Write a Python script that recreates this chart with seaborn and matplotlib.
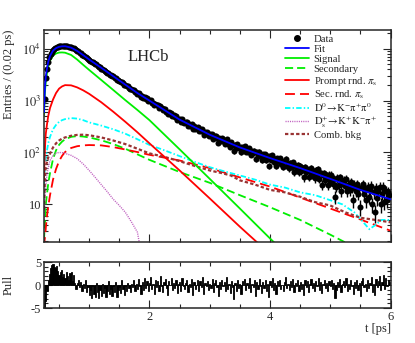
import numpy as np
import matplotlib
matplotlib.use("Agg")
import matplotlib.pyplot as plt
import seaborn as sns
from matplotlib.lines import Line2D
from matplotlib.ticker import FixedLocator, MultipleLocator, LogLocator, FuncFormatter, NullFormatter

# ---- values ----
# data: entries per 0.02 ps bin, first bin centre 0.26 ps
data_counts = [
    1070, 2710, 4122, 5675, 6905, 7978, 8782, 9641, 10018, 10433, 10846, 10965, 11130,
    11294, 11437, 11350, 11444, 11359, 11365, 11129, 10905, 10919, 10787,
    10281, 10139, 9689, 9293, 9138, 8864, 8404, 8203, 7734, 7576,
    7209, 7072, 6587, 6418, 6027, 5903, 5547, 5538, 5221, 4980,
    5008, 4689, 4433, 4387, 4149, 4153, 3883, 3803, 3542, 3482,
    3483, 3185, 3135, 2927, 2939, 2760, 2771, 2501, 2490, 2430,
    2273, 2327, 2148, 2014, 2016, 1907, 1902, 1790, 1683, 1702,
    1600, 1600, 1459, 1458, 1370, 1406, 1298, 1198, 1245, 1145,
    1198, 1086, 1099, 989, 1013,
    1020, 907, 913, 815, 877, 806, 812, 728, 790, 709,
    648, 682, 678, 606, 549, 605, 562, 580, 504, 518,
    479, 502, 421, 449, 444, 394, 440, 391, 368, 386,
    385, 328, 353, 331, 354, 282, 322, 289, 297, 306,
    258, 285, 257, 285, 221, 251, 235, 246, 209, 224,
    205, 229, 183, 208, 211, 186, 155, 194, 167, 191,
    167, 176, 146, 183, 147, 155, 129, 157, 137, 105,
    142, 120, 144, 121, 128, 101, 129, 117, 131, 103,
    116, 102, 123, 90, 105, 97, 109, 74, 102, 85,
    104, 88, 72, 94, 79, 94, 71, 84, 56, 86,
    73, 88, 65, 76, 55, 77, 67, 77, 60, 66,
    53, 68, 75, 55, 61, 50, 64, 53, 65, 42,
    57, 51, 58, 42, 55, 43, 50, 33, 53, 42,
    49, 34, 44, 51, 37, 43, 32, 45, 36, 47,
    31, 40, 24, 37, 40, 29, 36, 24, 37, 30,
    37, 25, 31, 14, 22, 32, 24, 33, 18, 27,
    30, 23, 31, 18, 24, 19, 27, 21, 12, 24,
    18, 25, 16, 21, 9, 22, 25, 16, 19, 12,
    22, 14, 19, 23, 10, 17, 7, 21, 13, 18,
    22, 10, 16, 22, 11, 18, 12, 17, 15,
]

pulls = [
    -5.0, -3.5, -1.2, 1.0, 2.5, 3.8, 4.3, 4.6, 4.0, 3.6,
    4.2, 3.0, 2.2, 2.8, 3.2, 1.8, 2.5, 1.5, 2.9, 2.0,
    1.2, 2.7, 2.8, 0.8, 2.2, 0.5, -0.8, 0.4, 1.0, -0.5,
    0.7, -1.2, 0.3, -0.6, 1.1, -1.5, -0.4, -2.2, -1.0, -2.8,
    -0.3, -1.9, -2.5, 0.4, -1.6, -2.9, -1.1, -2.3, 0.2, -1.7,
    -0.6, -2.6, -1.3, 0.9, -2.0, -0.8, -2.4, -0.2, -1.5, 0.6,
    -2.7, -1.0, -0.4, -1.8, 1.2, -0.9, -2.1, -0.3, -1.2, 0.5,
    -0.7, -1.6, 0.3, -0.5, 1.0, -1.3, 0.2, -0.8, 1.4, -0.3,
    -1.9, 0.6, -1.1, 1.6, -0.6, 0.9, -1.4, 0.4,
    1.7, -0.9, 0.3, -2.0, 1.1, -0.4, 0.8, -1.3, 1.9, -0.2,
    -1.6, 0.6, 1.3, -0.7, -2.2, 0.9, -0.1, 1.5, -1.0, 0.4,
    -0.6, 1.2, -1.8, 0.2, 0.7, -1.2, 1.6, -0.3, -0.9, 0.5,
    1.0, -1.5, 0.3, -0.4, 1.4, -2.1, 0.6, -0.8, 0.1, 1.1,
    -1.3, 0.8, -0.5, 1.7, -1.9, 0.4, -0.2, 0.9, -1.1, 0.3,
    -0.7, 1.3, -1.6, 0.5, 1.0, -0.4, -2.4, 0.7, -0.9, 1.2,
    -0.3, 0.6, -1.4, 1.8, -0.8, 0.2, -1.7, 0.9, -0.5, -3.0,
    0.4, -1.2, 1.1, -0.6, 0.3, -2.0, 0.8, -0.1, 1.4, -1.0,
    0.5, -0.7, 1.6, -1.5, 0.2, -0.4, 1.0, -2.3, 0.6, -0.9,
    1.3, -0.2, -1.8, 0.7, -0.6, 1.1, -1.2, 0.3, -2.6, 0.9,
    -0.5, 1.5, -1.0, 0.4, -1.9, 0.8, -0.3, 1.2, -0.8, 0.1,
    -1.4, 0.6, 1.7, -0.7, 0.2, -1.1, 0.9, -0.4, 1.3, -1.6,
    0.5, -0.2, 1.0, -1.3, 0.7, -0.9, 0.3, -2.1, 1.1, -0.5,
    0.8, -1.5, 0.2, 1.4, -0.6, 0.4, -1.2, 0.9, -0.3, 1.6,
    -1.0, 0.6, -1.8, 0.3, 1.1, -0.7, 0.5, -1.4, 0.8, -0.2,
    1.2, -0.9, 0.4, -2.8, -1.1, 0.7, -0.5, 1.3, -1.6, 0.2,
    0.9, -0.4, 1.5, -1.2, 0.3, -0.8, 1.0, -0.3, -1.9, 0.6,
    -0.6, 1.2, -1.0, 0.4, -2.4, 0.8, 1.6, -0.5, 0.2, -1.3,
    1.1, -0.7, 0.5, 1.8, -1.5, 0.3, -2.2, 1.4, -0.4, 0.9,
    1.9, -1.1, 0.6, 2.2, -0.8, 1.5, -0.3, 1.2, 0.7,
]

# fit model and components, sampled along t [ps]
t_curve = [0.25, 0.26, 0.27, 0.28, 0.30, 0.32, 0.35, 0.40, 0.45, 0.50, 0.55, 0.60, 0.70,
           0.80, 0.90, 1.0, 1.2, 1.4, 1.6, 1.8, 2.0, 2.5, 3.0, 3.5, 4.0, 4.5, 5.0, 5.5, 6.0]
fit = [600, 1250, 2100, 2900, 4200, 5600, 7300, 9200, 10300, 10900, 11150, 11200, 10500,
       9100, 7550, 6200, 4300, 2950, 2030, 1400, 1000, 430, 220, 125, 78, 50, 31, 19, 12.5]
signal = [500, 1100, 1700, 2300, 3400, 4500, 5900, 7400, 8100, 8450, 8500, 8400, 7600,
          6200, 4900, 3900, 2500, 1600, 1020, 660, 420, 115, 31, 8.3, 2.2, 0.6, 0.16, 0.04, 0.01]
secondary = [2, 3.5, 5, 10, 16, 25, 40, 75, 110, 140, 162, 180, 200,
             207, 203, 195, 172, 145, 118, 92, 72, 42, 26, 15, 8.8, 5.0, 2.6, 1.3, 0.7]
prompt_rnd = [30, 80, 150, 230, 350, 500, 720, 1050, 1400, 1700, 1880, 1990, 1970,
              1800, 1580, 1350, 930, 610, 390, 245, 150, 45, 13, 3.7, 1.1, 0.3, 0.1, 0.03, 0.01]
sec_rnd = [1.5, 2, 2.5, 3.5, 6, 9, 15, 30, 48, 68, 86, 102, 122,
           132, 137, 139, 137, 127, 114, 102, 90, 70, 50, 33, 22, 13.5, 8.3, 5.1, 3.1]

t_kpipi0 = [0.25, 0.26, 0.27, 0.28, 0.30, 0.32, 0.35, 0.40, 0.45, 0.50, 0.55, 0.60, 0.70, 0.80,
            0.90, 1.0, 1.2, 1.4, 1.6, 1.8, 2.0, 2.25, 2.5, 2.75, 3.0, 3.25, 3.5, 3.75, 4.0,
            4.25, 4.5, 4.75, 5.0, 5.2, 5.4, 5.55, 5.65, 5.75, 5.85, 6.0]
kpipi0 = [25, 40, 60, 80, 110, 150, 200, 280, 340, 390, 420, 440, 460, 450,
          420, 380, 330, 280, 230, 180, 140, 110, 85, 66, 52, 43, 36, 30, 24,
          21, 17, 15, 12, 10, 7, 4.5, 3.3, 4, 5, 5]

t_ds = [0.25, 0.27, 0.30, 0.35, 0.40, 0.45, 0.50, 0.55, 0.60, 0.70, 0.80, 0.90, 1.0,
        1.1, 1.2, 1.3, 1.4, 1.5, 1.6, 1.7, 1.8, 1.86]
ds_kkpi = [5, 15, 40, 70, 88, 97, 100, 99, 96, 88, 76, 60, 45,
           33, 24, 17.5, 12.5, 9.5, 7, 4.6, 2.9, 1.2]

t_comb = [0.25, 0.26, 0.27, 0.28, 0.30, 0.32, 0.35, 0.40, 0.45, 0.50, 0.55, 0.60, 0.70, 0.80,
          0.90, 1.0, 1.2, 1.4, 1.6, 1.8, 2.0, 2.25, 2.5, 2.75, 3.0, 3.2, 3.35, 3.5, 3.75,
          4.0, 4.25, 4.5, 4.75, 5.0, 5.25, 5.5, 5.75, 6.0]
comb = [8, 20, 40, 55, 65, 80, 95, 125, 150, 170, 185, 195, 210, 218,
        220, 215, 195, 170, 145, 118, 96, 82, 68, 55, 45, 40, 36, 29, 24,
        19, 17, 14, 11, 9.5, 7, 5.5, 5, 4.5]

t_bins = 0.26 + 0.02 * np.arange(len(data_counts))

# ---- style ----
sns.set_style("ticks")
plt.rcParams['font.family'] = ['Liberation Serif', 'DejaVu Serif']
plt.rcParams['mathtext.fontset'] = 'stix'

fig = plt.figure(figsize=(4.15, 3.43), dpi=100)
ax1 = fig.add_axes([0.106, 0.2953, 0.835, 0.6172])
ax2 = fig.add_axes([0.106, 0.102, 0.835, 0.134])

ax1.set_yscale('log')

styles = [
    (t_curve, secondary, '#00ee00', (0, (4.5, 2.2)), 1.3),
    (t_curve, sec_rnd, '#ff0000', (0, (5.5, 2.8)), 1.3),
    (t_kpipi0, kpipi0, '#00ffff', (0, (3, 1.2, 0.8, 1.2)), 1.3),
    (t_ds, ds_kkpi, '#c060c0', (0, (0.8, 0.8)), 1.0),
    (t_comb, comb, '#993333', (0, (1.5, 1.0)), 1.6),
    (t_curve, prompt_rnd, '#ff0000', '-', 1.3),
    (t_curve, signal, '#00ee00', '-', 1.3),
]
for x, y, col, ls, lw in styles:
    sns.lineplot(x=x, y=y, ax=ax1, color=col, linestyle=ls, linewidth=lw,
                 estimator=None, sort=False, legend=False, zorder=2)

# data with poisson errors
ax1.errorbar(t_bins, data_counts, yerr=np.sqrt(data_counts), fmt='none',
             ecolor='black', elinewidth=1.0, zorder=3)
sns.scatterplot(x=t_bins, y=data_counts, ax=ax1, color='black', s=19,
                linewidth=0, zorder=3, legend=False)

sns.lineplot(x=t_curve, y=fit, ax=ax1, color='#0000ff', linewidth=1.3,
             estimator=None, sort=False, legend=False, zorder=4)

ax1.set_xlim(0.25, 6.0)
ax1.set_ylim(1.9, 23000)
ax1.yaxis.set_major_locator(FixedLocator([10, 100, 1000, 10000]))
ax1.yaxis.set_minor_locator(LogLocator(base=10, subs=np.arange(2, 10)))
ax1.yaxis.set_major_formatter(FuncFormatter(
    lambda v, p: '10' if abs(v - 10) < 1e-6 else r'$10^{%d}$' % round(np.log10(v))))
ax1.yaxis.set_minor_formatter(NullFormatter())
ax1.set_ylabel('Entries / (0.02 ps)', fontsize=9, loc='top')
ax1.yaxis.set_label_coords(-0.085, 1.0)
ax1.set_xlabel('')

for ax in (ax1, ax2):
    ax.xaxis.set_major_locator(FixedLocator([2, 4, 6]))
    ax.xaxis.set_minor_locator(MultipleLocator(0.5))
    ax.tick_params(which='both', direction='in', top=True, right=True, labelsize=9,
                   width=0.8, pad=2)
    ax.tick_params(which='major', length=6)
    ax.tick_params(which='minor', length=3)
    for s in ax.spines.values():
        s.set_linewidth(1.1)
ax1.tick_params(labelbottom=False)

ax1.text(0.30, 0.872, 'LHCb', transform=ax1.transAxes, fontsize=12,
         ha='center', va='center')

handles = [
    Line2D([], [], color='black', marker='o', markersize=4, linestyle='none'),
    Line2D([], [], color='#0000ff', lw=1.3),
    Line2D([], [], color='#00ee00', lw=1.3),
    Line2D([], [], color='#00ee00', lw=1.3, linestyle=(0, (4.5, 2.2))),
    Line2D([], [], color='#ff0000', lw=1.3),
    Line2D([], [], color='#ff0000', lw=1.3, linestyle=(0, (5.5, 2.8))),
    Line2D([], [], color='#00ffff', lw=1.3, linestyle=(0, (3, 1.2, 0.8, 1.2))),
    Line2D([], [], color='#c060c0', lw=1.0, linestyle=(0, (0.8, 0.8))),
    Line2D([], [], color='#993333', lw=1.6, linestyle=(0, (1.5, 1.0))),
]
labels = ['Data', 'Fit', 'Signal', 'Secondary',
          r'Prompt rnd. $\pi_{\mathrm{s}}$', r'Sec. rnd. $\pi_{\mathrm{s}}$',
          r'$\mathrm{D^0\!\rightarrow\!K^{-}\pi^{+}\pi^{0}}$',
          r'$\mathrm{D_s^{+}\!\rightarrow\!K^{+}K^{-}\pi^{+}}$',
          'Comb. bkg']
ax1.legend(handles, labels, loc='upper left', bbox_to_anchor=(0.696, 0.978),
           frameon=False, fontsize=7.7, handlelength=2.2, handletextpad=0.45,
           labelspacing=0.05, borderpad=0, borderaxespad=0)

# pull panel
ax2.bar(t_bins, pulls, width=0.02, color='black', edgecolor='black', linewidth=0.6)
ax2.set_xlim(0.25, 6.0)
ax2.set_ylim(-5, 5)
ax2.yaxis.set_major_locator(FixedLocator([-5, 0, 5]))
ax2.yaxis.set_minor_locator(MultipleLocator(1))
ax2.yaxis.set_major_formatter(FuncFormatter(lambda v, p: '%d' % v))
ax2.set_ylabel('Pull', fontsize=9)
ax2.yaxis.set_label_coords(-0.085, 0.5)
ax2.set_xlabel('t [ps]', fontsize=9, loc='right', labelpad=0)

fig.savefig('out.png', dpi=100)
